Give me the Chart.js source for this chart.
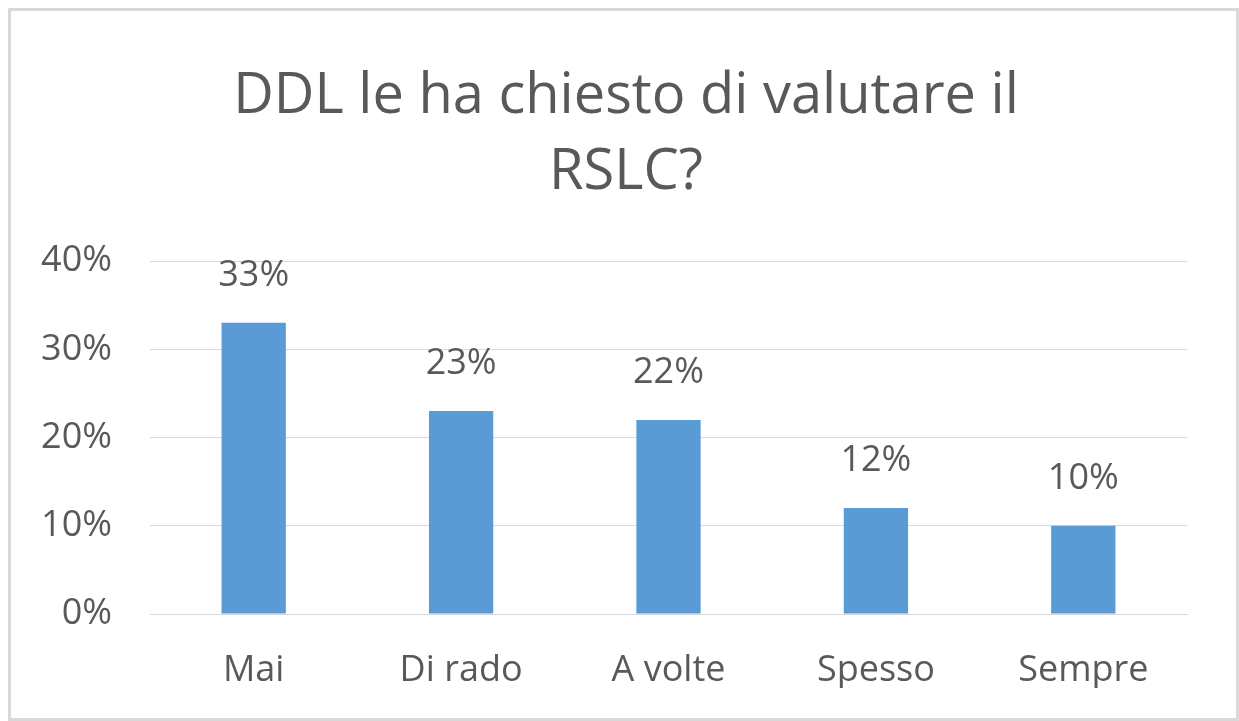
<!DOCTYPE html>
<html>
<head>
<meta charset="utf-8">
<script src="https://cdn.jsdelivr.net/npm/chart.js@4/dist/chart.umd.min.js"></script>
<style>
  html, body { margin: 0; padding: 0; background: #fff; }
  #wrap { position: relative; width: 1239px; height: 721px; }
  #frame { position: absolute; left: 8px; top: 8px; width: 1231px; height: 713px; box-sizing: border-box; border: 3px solid #d9d9d9; pointer-events: none; }
</style>
</head>
<body>
<div id="wrap">
  <canvas id="c" width="1239" height="721"></canvas>
  <div id="frame"></div>
</div>
<script>
const titleLines = ["DDL le ha chiesto di valutare il", "RSLC?"];
const categories = ["Mai", "Di rado", "A volte", "Spesso", "Sempre"];
const values = [33, 23, 22, 12, 10];
const yTicks = [0, 10, 20, 30, 40];

const FONT = "'Open Sans', 'Noto Sans', sans-serif";
const TXT = "#595959";

const labelPlugin = {
  id: 'barLabels',
  afterLayout(chart) {
    // let the y tick labels extend into the left padding without being clipped
    chart.scales.y.left = 0;
  },
  afterDatasetsDraw(chart) {
    const ctx = chart.ctx;
    const meta = chart.getDatasetMeta(0);
    ctx.save();
    ctx.font = "36px " + FONT;
    ctx.fillStyle = TXT;
    ctx.textAlign = 'center';
    ctx.textBaseline = 'middle';
    meta.data.forEach((bar, i) => {
      ctx.fillText(values[i] + '%', bar.x, bar.y - 47);
    });
    ctx.restore();
  }
};

new Chart(document.getElementById('c'), {
  type: 'bar',
  data: {
    labels: categories,
    datasets: [{
      data: values,
      backgroundColor: '#5B9BD5',
      borderWidth: 0,
      barPercentage: 0.31,
      categoryPercentage: 1.0
    }]
  },
  options: {
    responsive: false,
    animation: false,
    devicePixelRatio: 1,
    layout: { padding: { left: 65, right: 52, top: 0, bottom: 33 } },
    plugins: {
      legend: { display: false },
      tooltip: { enabled: false },
      title: {
        display: true,
        text: titleLines,
        color: TXT,
        font: { family: FONT, size: 56, weight: 'normal', lineHeight: 1.34 },
        padding: { top: 60, bottom: 51 }
      }
    },
    scales: {
      x: {
        grid: { display: false, drawTicks: false },
        border: { display: true, color: '#d9d9d9', width: 1 },
        ticks: { color: TXT, font: { family: FONT, size: 36 }, padding: 35 },
        afterFit(scale) { scale.height = 74; }
      },
      y: {
        min: 0, max: 40,
        afterBuildTicks(scale) { scale.ticks = yTicks.map(v => ({ value: v })); },
        grid: { color: '#d9d9d9', lineWidth: 1, drawTicks: false },
        border: { display: false },
        ticks: { color: TXT, font: { family: FONT, size: 36 }, padding: 38, callback: v => v + '%' },
        afterFit(scale) { scale.width = 85; }
      }
    }
  },
  plugins: [labelPlugin]
});
</script>
</body>
</html>
